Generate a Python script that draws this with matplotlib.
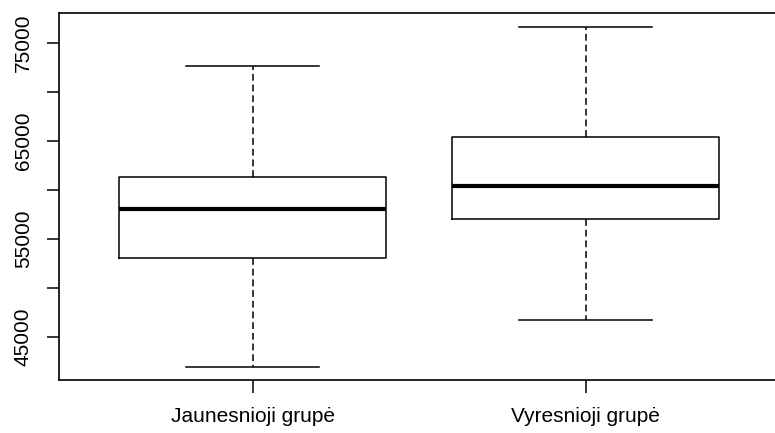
import matplotlib
matplotlib.use('Agg')
import matplotlib.pyplot as plt

plt.rcParams['font.family'] = ['Liberation Sans', 'DejaVu Sans']

groups = ['Jaunesnioji grupė', 'Vyresnioji grupė']
whislo = [41970, 46750]
q1 = [53050, 57050]
med = [58070, 60440]
q3 = [61320, 65420]
whishi = [72630, 76670]

yticks = [45000, 50000, 55000, 60000, 65000, 70000, 75000]
ylabels = ['45000', '', '55000', '', '65000', '', '75000']

stats = []
for i in range(len(groups)):
    stats.append({'label': groups[i], 'whislo': whislo[i], 'q1': q1[i],
                  'med': med[i], 'q3': q3[i], 'whishi': whishi[i]})

fig = plt.figure(figsize=(7.75, 4.33), dpi=100)
ax = fig.add_axes([0.0765, 0.1217, 0.9287, 0.8476])

ax.bxp(stats, positions=[1, 2], widths=0.8, showfliers=False,
       boxprops=dict(color='black', linewidth=1.1),
       medianprops=dict(color='black', linewidth=3.0, solid_capstyle='butt'),
       whiskerprops=dict(color='black', linewidth=1.1, linestyle=(0, (4.5, 2.5))),
       capprops=dict(color='black', linewidth=1.1),
       capwidths=0.4)

# R style 4% axis extension
lo, hi = min(whislo), max(whishi)
ext = (hi - lo) * 0.04
ax.set_ylim(lo - ext, hi + ext)
ax.set_xlim(0.42, 2.58)

ax.set_yticks(yticks)
ax.set_yticklabels(ylabels, rotation=90, va='center', fontsize=15)
ax.set_xticks([1, 2])
ax.set_xticklabels(groups, fontsize=15)
ax.tick_params(axis='y', length=9, width=1.1, pad=10)
ax.tick_params(axis='x', length=9, width=1.1, pad=10)
for s in ax.spines.values():
    s.set_linewidth(1.2)

plt.savefig('out.png', dpi=100)
